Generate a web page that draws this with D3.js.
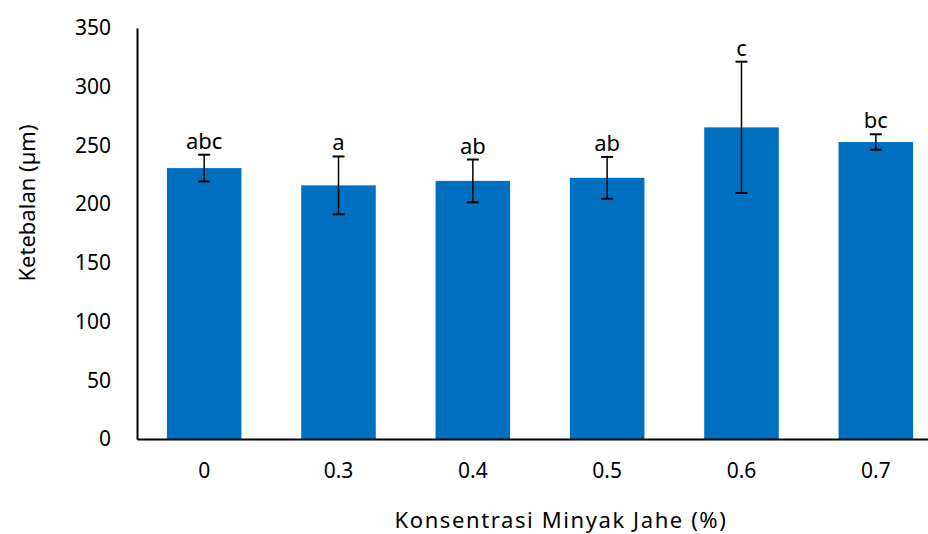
<!DOCTYPE html>
<html>
<head>
<meta charset="UTF-8">
<script src="https://d3js.org/d3.v7.min.js"></script>
<style>
  body { margin: 0; background: #fff; }
  text { font-family: "Segoe UI", "Noto Sans", sans-serif; fill: #000; }
</style>
</head>
<body>
<svg id="canvas"></svg>
<script>
  width = 928;
  height = 534;

  // chart data
  concentrations = ["0", "0.3", "0.4", "0.5", "0.6", "0.7"];
  thickness = [230.7, 216.0, 219.8, 222.4, 265.4, 252.9];
  stdev = [11.4, 24.6, 18.2, 17.8, 55.9, 6.6];
  letters = ["abc", "a", "ab", "ab", "c", "bc"];
  yTicks = [0, 50, 100, 150, 200, 250, 300, 350];

  margin = { left: 137, top: 28, bottom: 95 };

  svg = d3.select("#canvas")
    .attr("width", width)
    .attr("height", height);

  x = d3.scaleBand()
    .domain(concentrations)
    .range([margin.left, 943])
    .paddingInner(0.445)
    .paddingOuter(0.2225);

  y = d3.scaleLinear()
    .domain([0, 350])
    .range([height - margin.bottom, margin.top]);

  rows = concentrations.map((c, i) => ({ c: c, v: thickness[i], sd: stdev[i], l: letters[i] }));

  // bars
  svg.selectAll(".bar")
    .data(rows)
    .enter().append("rect")
      .attr("class", "bar")
      .attr("x", d => x(d.c))
      .attr("y", d => y(d.v))
      .attr("width", x.bandwidth())
      .attr("height", d => y(0) - y(d.v))
      .attr("fill", "#0070C0");

  // error bars
  err = svg.selectAll(".err")
    .data(rows)
    .enter().append("g")
      .attr("class", "err")
      .attr("stroke", "#000");

  err.append("line")
    .attr("x1", d => x(d.c) + x.bandwidth() / 2)
    .attr("x2", d => x(d.c) + x.bandwidth() / 2)
    .attr("y1", d => y(d.v + d.sd))
    .attr("y2", d => y(d.v - d.sd))
    .attr("stroke-width", 1.5);

  [1, -1].forEach(s => {
    err.append("line")
      .attr("x1", d => x(d.c) + x.bandwidth() / 2 - 6)
      .attr("x2", d => x(d.c) + x.bandwidth() / 2 + 6)
      .attr("y1", d => y(d.v + s * d.sd))
      .attr("y2", d => y(d.v + s * d.sd))
      .attr("stroke-width", 2);
  });

  // significance letters
  svg.selectAll(".letter")
    .data(rows)
    .enter().append("text")
      .attr("class", "letter")
      .attr("x", d => x(d.c) + x.bandwidth() / 2)
      .attr("y", d => y(d.v + d.sd) - 6)
      .attr("text-anchor", "middle")
      .attr("font-size", 22)
      .text(d => d.l);

  // y axis
  yAxis = svg.append("g")
    .attr("transform", "translate(" + margin.left + ",0)")
    .call(d3.axisLeft(y).tickValues(yTicks).tickSize(0).tickPadding(26));
  yAxis.select(".domain").attr("stroke", "#000").attr("stroke-width", 2);
  yAxis.selectAll("text").attr("font-size", 21).attr("font-family", null);

  // x axis
  xAxis = svg.append("g")
    .attr("transform", "translate(0," + y(0) + ")")
    .call(d3.axisBottom(x).tickSize(0).tickPadding(24));
  xAxis.select(".domain").attr("stroke", "#000").attr("stroke-width", 2);
  xAxis.selectAll("text").attr("font-size", 21).attr("font-family", null);

  // axis titles
  svg.append("text")
    .attr("x", 561)
    .attr("y", 528)
    .attr("text-anchor", "middle")
    .attr("font-size", 22)
    .attr("letter-spacing", 1.6)
    .text("Konsentrasi Minyak Jahe (%)");

  svg.append("text")
    .attr("transform", "translate(35,203) rotate(-90)")
    .attr("text-anchor", "middle")
    .attr("font-size", 22)
    .text("Ketebalan (µm)");
</script>
</body>
</html>
